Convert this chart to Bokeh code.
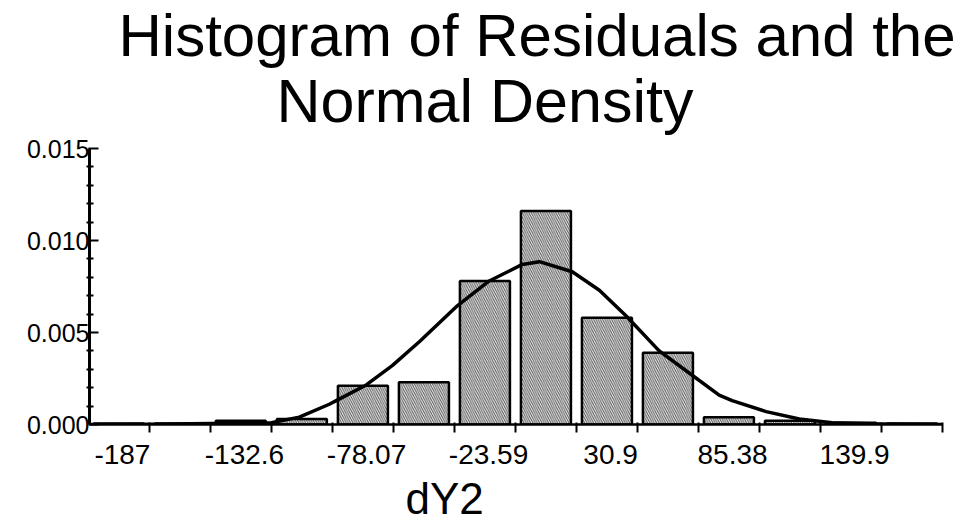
from bokeh.plotting import figure
from bokeh.models import Range1d, FixedTicker, Title, NumeralTickFormatter, ColumnDataSource, Label
from bokeh.embed import file_html
from bokeh.resources import INLINE

# ---- data ----
bin_edges = [-214.34, -187.1, -159.85, -132.6, -105.33, -78.07, -50.83, -23.59,
             3.66, 30.9, 58.14, 85.38, 112.64, 139.9, 167.14]
bin_density = [0.00005, 0.00005, 0.0002, 0.0003, 0.0021, 0.0023, 0.0078, 0.0116,
               0.0058, 0.0039, 0.0004, 0.0002, 0.0001, 0.00005]

curve_x = [-213.8, -187.1, -159.4, -132.6, -120.1, -106.7, -103.6, -90.2, -78.6,
           -66.5, -50.0, -35.3, -20.5, -12.9, 1.8, 13.9, 25.9, 40.6, 54.0, 67.4,
           73.2, 88.4, 103.2, 117.9, 139.8, 167.1]
curve_y = [0.0, 0.00002, 0.00005, 0.0001, 0.0004, 0.0011, 0.0013, 0.00215, 0.0032,
           0.0045, 0.0064, 0.0078, 0.0087, 0.00885, 0.0083, 0.0073, 0.0059, 0.0040,
           0.0028, 0.0016, 0.0013, 0.0007, 0.0003, 0.0001, 0.00003, 0.0]

x_tick_values = [-187.1, -132.6, -78.07, -23.59, 30.9, 85.38, 139.9]
x_tick_labels = ["-187", "-132.6", "-78.07", "-23.59", "30.9", "85.38", "139.9"]
y_tick_values = [0.0, 0.005, 0.010, 0.015]

title_line1 = "Histogram of Residuals and the"
title_line2 = "Normal Density"
x_label = "dY2"

FONT = "Liberation Sans"

centers = [(a + b) / 2 for a, b in zip(bin_edges[:-1], bin_edges[1:])]
bin_w = bin_edges[1] - bin_edges[0]

# frame reaches up to the top of the canvas so the two title lines can sit in it;
# the y axis itself is bounded to 0 .. 0.015
FRAME_H = 424
PLOT_H = 276            # pixels spanned by 0 .. 0.015
y_top = 0.015 * FRAME_H / PLOT_H
px_per_unit = 853 / (167.14 + 213.8)
x_right = 167.14 + 15 / px_per_unit

p = figure(frame_width=868, frame_height=FRAME_H,
           min_border_left=89, min_border_right=0, min_border_top=0, min_border_bottom=0,
           x_range=Range1d(-213.8, x_right), y_range=Range1d(0.0, y_top),
           output_backend="svg", toolbar_location=None, title=None)
p.outline_line_color = None
p.xgrid.visible = False
p.ygrid.visible = False
p.background_fill_color = "white"
p.border_fill_color = "white"

src = ColumnDataSource(dict(x=centers, top=bin_density))
p.vbar(x="x", top="top", bottom=0, width=bin_w * 0.82, source=src,
       fill_color="#eeeeee", line_color="black", line_width=2.5,
       hatch_pattern="\\", hatch_color="#222222", hatch_scale=4.5, hatch_weight=1,
       hatch_alpha=0.75)

p.line(curve_x, curve_y, line_color="black", line_width=3.5, line_join="round")

# x axis: visible tick marks at the bin edges (minor), labels shifted left as in the picture
label_shift = -12.0
label_pos = [v + label_shift for v in x_tick_values]
xa = p.xaxis[0]
xa.bounds = (-213.8, 167.14)
xa.ticker = FixedTicker(ticks=label_pos, minor_ticks=bin_edges[1:])
xa.major_label_overrides = {pos: lab for pos, lab in zip(label_pos, x_tick_labels)}
xa.major_tick_line_color = None
xa.major_tick_out = 8
xa.major_tick_in = 0
xa.minor_tick_line_color = "black"
xa.minor_tick_line_width = 2
xa.minor_tick_out = 8
xa.minor_tick_in = 2
xa.axis_line_width = 2.5
xa.axis_line_color = "black"
xa.major_label_standoff = 12
xa.major_label_text_font = FONT
xa.major_label_text_font_size = "28px"
xa.major_label_text_color = "black"

ya = p.yaxis[0]
ya.bounds = (0.0, 0.015)
ya.ticker = FixedTicker(ticks=y_tick_values,
                        minor_ticks=[0.001, 0.002, 0.003, 0.004, 0.006, 0.007, 0.008, 0.009,
                                     0.011, 0.012, 0.013, 0.014])
ya.formatter = NumeralTickFormatter(format="0.000")
ya.axis_line_width = 3
ya.major_tick_line_width = 2
ya.major_tick_in = 9
ya.major_tick_out = 1
ya.minor_tick_line_width = 2
ya.minor_tick_in = 4
ya.minor_tick_out = 3
ya.major_label_standoff = -3
ya.major_label_text_font = FONT
ya.major_label_text_font_size = "25px"
ya.major_label_text_color = "black"

# title lines placed in data space above the plotted area
p.add_layout(Label(x=-213.8 + 29 / px_per_unit, y=0.015 * (FRAME_H - 35) / PLOT_H,
                   text=title_line1, text_font=FONT, text_font_size="60px",
                   text_color="black", text_baseline="alphabetic", text_align="left"))
p.add_layout(Label(x=-213.8 + 187 / px_per_unit, y=0.015 * (FRAME_H - 100) / PLOT_H,
                   text=title_line2, text_font=FONT, text_font_size="61px",
                   text_color="black", text_baseline="alphabetic", text_align="left"))

p.add_layout(Title(text=x_label, text_font=FONT, text_font_size="44px", text_color="black",
                   text_font_style="normal", align="left", offset=316, standoff=10), "below")

open("out.html", "w").write(file_html(p, INLINE))
